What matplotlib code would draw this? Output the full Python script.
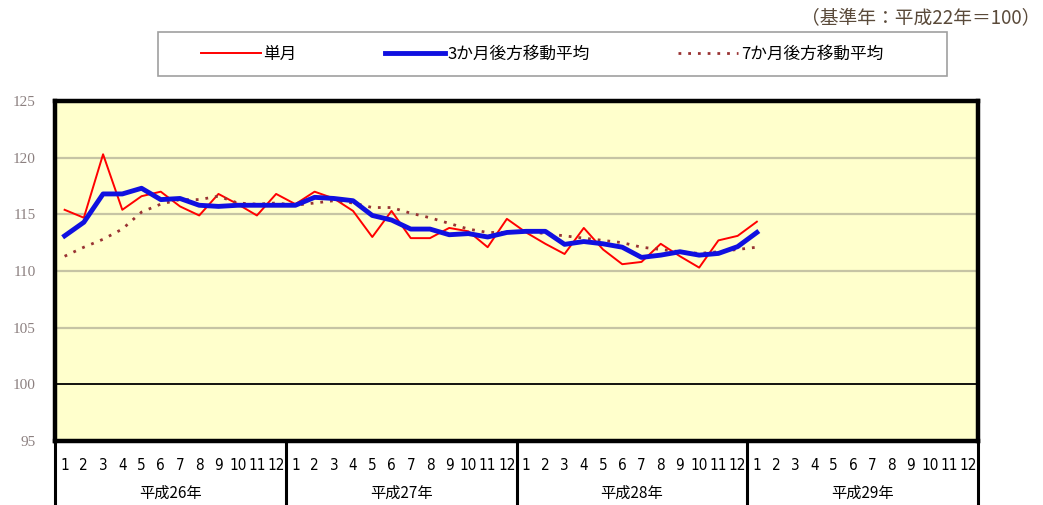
import numpy as np
import matplotlib
matplotlib.use("Agg")
import matplotlib.pyplot as plt
import matplotlib.transforms as mtransforms
from matplotlib.patches import Rectangle

plt.rcParams['font.family'] = ['Noto Sans CJK JP', 'DejaVu Sans']

# Data: 平成26年1月 ~ 平成29年1月
years = ['平成26年', '平成27年', '平成28年', '平成29年']
months = [str(m) for m in range(1, 13)]

single = [115.4, 114.7, 120.3, 115.4, 116.6, 117.0, 115.7, 114.9, 116.8, 115.9, 114.9, 116.8,
          115.9, 117.0, 116.4, 115.3, 113.0, 115.3, 112.9, 112.9, 113.8, 113.5, 112.1, 114.6,
          113.4, 112.4, 111.5, 113.8, 111.9, 110.6, 110.8, 112.4, 111.3, 110.3, 112.7, 113.1,
          114.35]
ma3 = [113.1, 114.3, 116.8, 116.8, 117.3, 116.3, 116.4, 115.8, 115.7, 115.8, 115.8, 115.8,
       115.8, 116.5, 116.4, 116.2, 114.9, 114.5, 113.7, 113.7, 113.2, 113.3, 113.0, 113.4,
       113.5, 113.5, 112.35, 112.6, 112.4, 112.1, 111.2, 111.4, 111.7, 111.4, 111.55, 112.15,
       113.4]
ma7 = [111.3, 112.1, 112.8, 113.7, 115.2, 115.9, 116.3, 116.3, 116.6, 116.0, 115.9, 116.0,
       115.8, 116.0, 116.2, 116.0, 115.6, 115.6, 115.1, 114.7, 114.2, 113.7, 113.4, 113.4,
       113.5, 113.3, 113.1, 112.9, 112.7, 112.5, 112.1, 111.9, 111.7, 111.55, 111.7, 111.9,
       112.1]
yticks = [95, 100, 105, 110, 115, 120, 125]

W, H = 1043, 505
fig = plt.figure(figsize=(W / 100, H / 100), dpi=100)
L, R, T, B = 55, 978, 101, 441
ax = fig.add_axes([L / W, 1 - B / H, (R - L) / W, (B - T) / H])
ax.set_facecolor('#FFFFCC')

n_cat = len(years) * len(months)
x = np.arange(len(single))

# Grid lines
for v in yticks[1:-1]:
    if v == 100:
        ax.axhline(v, color='black', lw=1.3, zorder=1)
    else:
        ax.axhline(v, color='#C6C4A4', lw=1.6, zorder=1)

ln1, = ax.plot(x, single, color='#FF0000', lw=1.4, zorder=3, label='単月')
ln3, = ax.plot(x, ma7, color='#993333', lw=2, ls=(0, (1, 2.5)), zorder=4, label='7か月後方移動平均')
ln2, = ax.plot(x, ma3, color='#1010E0', lw=3.5, zorder=5, label='3か月後方移動平均')

ax.set_xlim(-0.5, n_cat - 0.5)
ax.set_ylim(95, 125)
ax.set_xticks([])
ax.set_yticks(yticks)
ax.set_yticklabels([str(v) for v in yticks], family='Liberation Serif', fontsize=11, color='#8C8080')
ax.tick_params(axis='y', length=0, pad=14)
for s in ax.spines.values():
    s.set_linewidth(3.2)
    s.set_color('black')

# Category axis (months / years)
trans = mtransforms.blended_transform_factory(ax.transData, ax.transAxes)
y_bottom = -(H - B) / (B - T) - 0.01
for i in range(len(years) + 1):
    xb = i * 12 - 0.5
    ax.plot([xb, xb], [0, y_bottom], color='black', lw=2.2, transform=trans, clip_on=False)
for yi, yname in enumerate(years):
    for mi, m in enumerate(months):
        ax.text(yi * 12 + mi, -0.072, m, transform=trans, ha='center', va='center',
                fontsize=11, family='DejaVu Sans', stretch='condensed')
    ax.text(yi * 12 + 5.5, -0.153, yname, transform=trans, ha='center', va='center', fontsize=11)

# Legend box and entries
fig.add_artist(Rectangle((158 / W, 1 - 76 / H), (947 - 158) / W, 44 / H, transform=fig.transFigure,
                         facecolor='white', edgecolor='#A0A0A0', lw=1.2))
leg = fig.legend([ln1, ln2, ln3], ['単月', '3か月後方移動平均', '7か月後方移動平均'],
                 loc='center left', bbox_to_anchor=(201 / W, 1 - 54 / H),
                 ncol=3, fontsize=12, frameon=False,
                 handlelength=3.6, handletextpad=0.15, columnspacing=5.3, borderpad=0,
                 borderaxespad=0)

fig.text(1040 / W, 1 - 18 / H, '（基準年：平成22年＝100）', ha='right', va='center',
         fontsize=13.5, color='#5A4A3A')

fig.savefig('out.png', dpi=100)
